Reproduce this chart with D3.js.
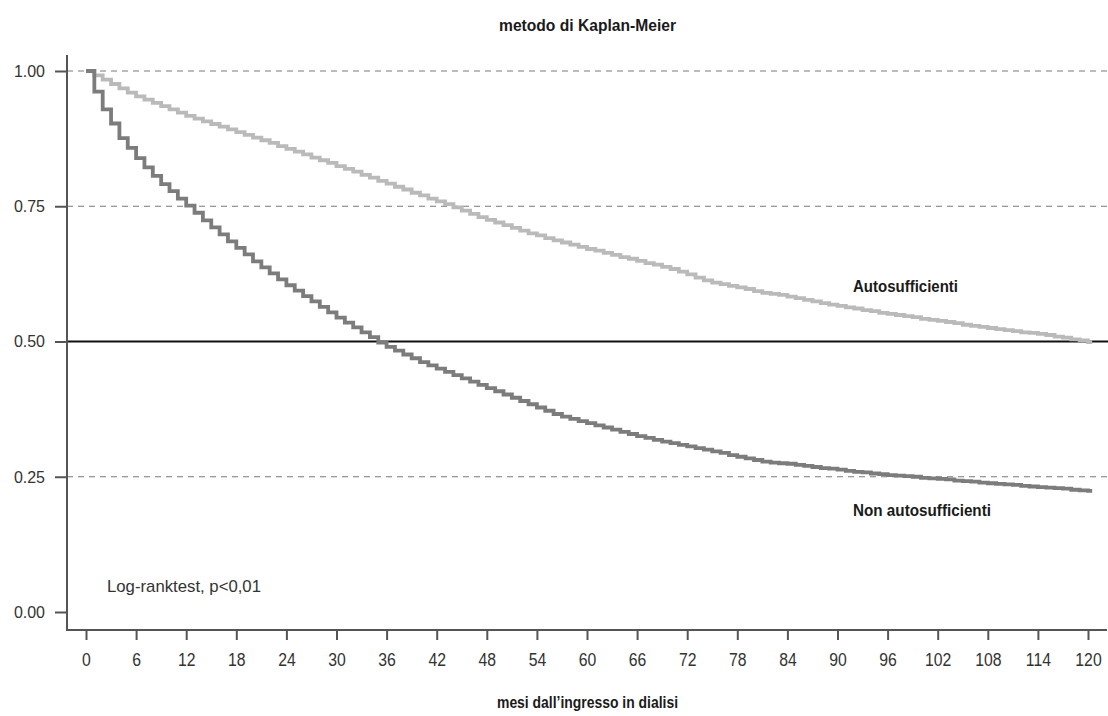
<!DOCTYPE html>
<html>
<head>
<meta charset="utf-8">
<script src="https://cdn.jsdelivr.net/npm/d3@7"></script>
<style>
  html, body { margin: 0; padding: 0; background: #fff; }
  svg { display: block; }
  text { font-family: "Liberation Sans", Arial, sans-serif; }
</style>
</head>
<body>
<svg id="chart" width="1108" height="716"></svg>
<script>
// ---- Data ----
const months = d3.range(0, 121);           // 0..120 months
const endMonth = 120.5;                    // last follow-up
const xTicks = d3.range(0, 121, 6);
const yTicks = [0, 0.25, 0.5, 0.75, 1];
const yTickLabels = ["0.00", "0.25", "0.50", "0.75", "1.00"];
const dashedRefs = [0.25, 0.75, 1.0];
const medianRef = 0.5;

const autoSurv = [
  1.000, 0.992, 0.984, 0.976, 0.968, 0.960, 0.953, 0.947, 0.941, 0.935,
  0.929, 0.923, 0.917, 0.912, 0.907, 0.902, 0.897, 0.892, 0.887, 0.882,
  0.877, 0.872, 0.867, 0.861, 0.856, 0.851, 0.846, 0.840, 0.835, 0.830,
  0.824, 0.819, 0.814, 0.808, 0.803, 0.797, 0.792, 0.786, 0.781, 0.775,
  0.770, 0.764, 0.759, 0.754, 0.748, 0.742, 0.736, 0.730, 0.725, 0.720,
  0.715, 0.710, 0.705, 0.700, 0.696, 0.691, 0.687, 0.683, 0.679, 0.675,
  0.671, 0.668, 0.664, 0.660, 0.656, 0.653, 0.649, 0.645, 0.642, 0.638,
  0.634, 0.629, 0.624, 0.618, 0.613, 0.609, 0.606, 0.603, 0.600, 0.597,
  0.593, 0.590, 0.588, 0.586, 0.583, 0.580, 0.577, 0.574, 0.571, 0.568,
  0.566, 0.563, 0.561, 0.558, 0.556, 0.553, 0.551, 0.549, 0.547, 0.545,
  0.542, 0.540, 0.538, 0.536, 0.534, 0.531, 0.529, 0.527, 0.525, 0.523,
  0.521, 0.519, 0.517, 0.516, 0.514, 0.512, 0.509, 0.507, 0.504, 0.502,
  0.499
];

const nonAutoSurv = [
  1.000, 0.962, 0.929, 0.903, 0.876, 0.858, 0.839, 0.822, 0.806, 0.791,
  0.778, 0.764, 0.751, 0.738, 0.724, 0.711, 0.698, 0.685, 0.673, 0.661,
  0.648, 0.637, 0.626, 0.615, 0.604, 0.594, 0.584, 0.574, 0.564, 0.554,
  0.544, 0.535, 0.526, 0.517, 0.508, 0.498, 0.490, 0.483, 0.476, 0.469,
  0.462, 0.456, 0.450, 0.444, 0.438, 0.432, 0.426, 0.420, 0.414, 0.408,
  0.402, 0.396, 0.390, 0.384, 0.378, 0.372, 0.366, 0.361, 0.357, 0.353,
  0.349, 0.345, 0.341, 0.337, 0.333, 0.329, 0.325, 0.322, 0.318, 0.315,
  0.312, 0.309, 0.306, 0.303, 0.300, 0.297, 0.294, 0.290, 0.287, 0.284,
  0.281, 0.278, 0.276, 0.275, 0.274, 0.272, 0.270, 0.268, 0.266, 0.265,
  0.263, 0.261, 0.259, 0.258, 0.256, 0.255, 0.253, 0.252, 0.251, 0.250,
  0.248, 0.247, 0.246, 0.245, 0.243, 0.242, 0.241, 0.239, 0.238, 0.237,
  0.236, 0.235, 0.233, 0.232, 0.231, 0.230, 0.229, 0.228, 0.226, 0.225,
  0.224
];

const seriesNames = ["Autosufficienti", "Non autosufficienti"];
const titleText = "metodo di Kaplan-Meier";
const xTitleText = "mesi dall\u2019ingresso in dialisi";
const noteText = "Log-ranktest, p<0,01";

// ---- Layout ----
const svg = d3.select("#chart");
const axisLeftX = 67, axisRightX = 1108, axisBottomY = 630, axisTopY = 55;

const x = d3.scaleLinear().domain([0, 120]).range([86, 1088]);
const y = d3.scaleLinear().domain([0, 1]).range([612, 71]);

// condense text horizontally (reference uses a condensed face)
function condense(sel, factor) {
  sel.each(function () {
    const w = this.getComputedTextLength();
    d3.select(this).attr("textLength", w * factor).attr("lengthAdjust", "spacingAndGlyphs");
  });
}
function fitWidth(sel, width) {
  sel.attr("textLength", width).attr("lengthAdjust", "spacingAndGlyphs");
}

// reference lines
svg.append("g").selectAll("line").data(dashedRefs).join("line")
  .attr("x1", axisLeftX).attr("x2", axisRightX)
  .attr("y1", d => y(d)).attr("y2", d => y(d))
  .attr("stroke", "#7a7a7a").attr("stroke-width", 1.2)
  .attr("stroke-dasharray", "6,5");

svg.append("line")
  .attr("x1", axisLeftX).attr("x2", axisRightX)
  .attr("y1", y(medianRef)).attr("y2", y(medianRef))
  .attr("stroke", "#111").attr("stroke-width", 2.2);

// curves
function stepData(vals) {
  const pts = months.map((m, i) => [m, vals[i]]);
  pts.push([endMonth, vals[vals.length - 1]]);
  return pts;
}
const line = d3.line().x(d => x(d[0])).y(d => y(d[1])).curve(d3.curveStepAfter);

svg.append("path").datum(stepData(autoSurv))
  .attr("d", line).attr("fill", "none")
  .attr("stroke", "#bababa").attr("stroke-width", 3.8)
  .attr("stroke-linejoin", "miter");

svg.append("path").datum(stepData(nonAutoSurv))
  .attr("d", line).attr("fill", "none")
  .attr("stroke", "#7c7c7c").attr("stroke-width", 3.8)
  .attr("stroke-linejoin", "miter");

// axes
const axisColor = "#555";
svg.append("line").attr("x1", axisLeftX).attr("x2", axisLeftX)
  .attr("y1", axisTopY).attr("y2", axisBottomY + 1)
  .attr("stroke", axisColor).attr("stroke-width", 2);
svg.append("line").attr("x1", axisLeftX - 1).attr("x2", axisRightX - 1)
  .attr("y1", axisBottomY).attr("y2", axisBottomY)
  .attr("stroke", axisColor).attr("stroke-width", 2);

const yAxis = d3.axisLeft(y).tickValues(yTicks)
  .tickFormat((d, i) => yTickLabels[i]).tickSize(12).tickPadding(10);
const gy = svg.append("g").attr("transform", `translate(${axisLeftX},0)`).call(yAxis);
gy.select(".domain").remove();
gy.selectAll(".tick line").attr("stroke", axisColor).attr("stroke-width", 2);
gy.selectAll(".tick text").attr("fill", "#333")
  .style("font-family", "'Liberation Sans', Arial, sans-serif").style("font-size", "17px")
  .call(condense, 0.94);

const xAxis = d3.axisBottom(x).tickValues(xTicks).tickSize(10).tickPadding(14);
const gx = svg.append("g").attr("transform", `translate(0,${axisBottomY})`).call(xAxis);
gx.select(".domain").remove();
gx.selectAll(".tick line").attr("stroke", axisColor).attr("stroke-width", 2);
gx.selectAll(".tick text").attr("fill", "#333")
  .style("font-family", "'Liberation Sans', Arial, sans-serif").style("font-size", "17.5px")
  .call(condense, 0.9);

// texts
const cx = (axisLeftX + axisRightX) / 2;
svg.append("text").attr("x", cx).attr("y", 31).attr("text-anchor", "middle")
  .style("font-size", "16px").style("font-weight", "bold").attr("fill", "#1a1a1a")
  .text(titleText).call(fitWidth, 177);

svg.append("text").attr("x", cx).attr("y", 708).attr("text-anchor", "middle")
  .style("font-size", "16px").style("font-weight", "bold").attr("fill", "#1a1a1a")
  .text(xTitleText).call(fitWidth, 181);

svg.append("text").attr("x", 853).attr("y", 292)
  .style("font-size", "17px").style("font-weight", "bold").attr("fill", "#1a1a1a")
  .text(seriesNames[0]).call(fitWidth, 105);

svg.append("text").attr("x", 853).attr("y", 516)
  .style("font-size", "17px").style("font-weight", "bold").attr("fill", "#1a1a1a")
  .text(seriesNames[1]).call(fitWidth, 138);

svg.append("text").attr("x", 107).attr("y", 592)
  .style("font-size", "17px").attr("fill", "#333")
  .text(noteText).call(fitWidth, 154);
</script>
</body>
</html>
